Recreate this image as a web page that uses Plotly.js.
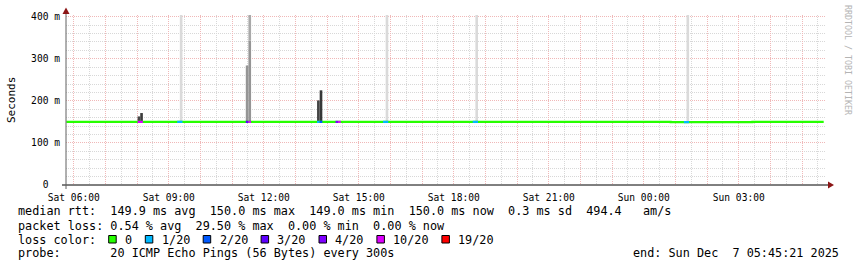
<!DOCTYPE html>
<html><head><meta charset="utf-8">
<script src="https://cdn.plot.ly/plotly-3.0.1.min.js"></script>
<style>html,body{margin:0;padding:0;background:#fff;}#chart{width:857px;height:267px;}</style>
</head><body><div id="chart"></div>
<script>
// ---- data ----
const rangeStart = '2025-12-06 05:45:21';
const rangeEnd   = '2025-12-07 05:45:21';

// median RTT (ms) as a step series: value holds from each time to the next
const medianTime  = ['2025-12-06 05:46', '2025-12-07 00:51', '2025-12-07 03:26', '2025-12-07 05:41'];
const medianValue = [150.0, 149.5, 150.0, 150.0];

// packet-loss intervals (coloured parts of the median line)
const lossStart = ['2025-12-06 08:01','2025-12-06 09:16','2025-12-06 11:26','2025-12-06 11:31','2025-12-06 13:41','2025-12-06 13:46','2025-12-06 14:16','2025-12-06 14:21','2025-12-06 15:46','2025-12-06 18:36','2025-12-07 01:16'];
const lossEnd   = ['2025-12-06 08:11','2025-12-06 09:26','2025-12-06 11:31','2025-12-06 11:36','2025-12-06 13:46','2025-12-06 13:51','2025-12-06 14:21','2025-12-06 14:26','2025-12-06 15:56','2025-12-06 18:46','2025-12-07 01:26'];
const lossLevel = ['10/20','1/20','3/20','10/20','1/20','2/20','4/20','10/20','1/20','1/20','1/20'];

// smoke (ping spread) per 5-minute step, ms
const smokeStart = ['2025-12-06 08:01','2025-12-06 08:06','2025-12-06 09:21','2025-12-06 11:26','2025-12-06 11:31','2025-12-06 11:31','2025-12-06 13:41','2025-12-06 13:46','2025-12-06 15:51','2025-12-06 18:41','2025-12-07 01:21'];
const smokeLow   = [150, 150, 150, 150, 150, 343, 150, 150, 150, 150, 150];
const smokeHigh  = [163, 171, 410, 284, 343, 410, 201, 225, 410, 410, 410];

// legend / ticks
const lossLabels  = ['0','1/20','2/20','3/20','4/20','10/20','19/20'];
const xTickTimes  = ['2025-12-06 06:00','2025-12-06 09:00','2025-12-06 12:00','2025-12-06 15:00','2025-12-06 18:00','2025-12-06 21:00','2025-12-07 00:00','2025-12-07 03:00'];
const xTickLabels = ['Sat 06:00','Sat 09:00','Sat 12:00','Sat 15:00','Sat 18:00','Sat 21:00','Sun 00:00','Sun 03:00'];
const yTickValues = [0, 100, 200, 300, 400];
const yTickLabels = ['0  ','100 m','200 m','300 m','400 m'];

const statsLine1 = 'median rtt:  149.9 ms avg  150.0 ms max  149.0 ms min  150.0 ms now  0.3 ms sd  494.4   am/s';
const statsLine2 = 'packet loss: 0.54 % avg  29.50 % max  0.00 % min  0.00 % now';
const statsLine3 = 'loss color:';
const probeLine  = 'probe:       20 ICMP Echo Pings (56 Bytes) every 300s';
const endLine    = 'end: Sun Dec  7 05:45:21 2025';
const sideText   = 'RRDTOOL / TOBI OETIKER';

// ---- styles ----
const lossPalette = ['#26ff00','#00b8ff','#0059ff','#5e00ff','#7e00ff','#dd00ff','#ff0000'];
const smokeShade  = ['#474747','#3c3c3c','#dadada','#959595','#959595','#a9a9a9','#454545','#383838','#dadada','#dadada','#dadada'];
const FONT = 'DejaVu Sans Mono, monospace';

// ---- helpers ----
function toMs(s){const [d,t]=s.split(' ');const [Y,M,D]=d.split('-').map(Number);const [h,m,sec]=t.split(':').map(Number);return Date.UTC(Y,M-1,D,h,m,sec||0);}
function toStr(ms){return new Date(ms).toISOString().replace('T',' ').slice(0,19);}
function medianAt(s){const t=toMs(s);let v=medianValue[0];for(let i=0;i<medianTime.length;i++){if(toMs(medianTime[i])<=t)v=medianValue[i];}return v;}
const nb = s => s.replace(/ /g,'\u00a0');

const W=857,H=267,L=66,R=31,T=15,B=82;
const PW=W-L-R, PH=H-T-B;
const px = x => (x-L)/PW;
const py = y => (H-B-y)/PH;

// ---- traces ----
const STEP = 300000;
const traces = [];
traces.push({
  type:'bar', xaxis:'x', yaxis:'y',
  x: smokeStart.map(s=>toStr(toMs(s)+STEP/2)),
  base: smokeLow,
  y: smokeHigh.map((h,i)=>h-smokeLow[i]),
  width: smokeStart.map(()=>STEP),
  marker:{color:smokeShade, line:{width:0}},
  hoverinfo:'skip'
});
traces.push({
  type:'scatter', mode:'lines', xaxis:'x2', yaxis:'y',
  x: medianTime, y: medianValue,
  line:{color:lossPalette[0], width:2.2, shape:'hv'},
  hoverinfo:'skip'
});
lossStart.forEach((s,i)=>{
  const m = medianAt(s);
  traces.push({
    type:'scatter', mode:'lines', xaxis:'x2', yaxis:'y',
    x:[s, lossEnd[i]], y:[m, m],
    line:{color:lossPalette[lossLabels.indexOf(lossLevel[i])], width:2.2},
    hoverinfo:'skip'
  });
});

// ---- annotations ----
const tf = {family:FONT, size:11.8, color:'#000'};
const ann = [];
function txt(text,x,y,opts){ann.push(Object.assign({text:nb(text),xref:'paper',yref:'paper',x:px(x),y:py(y),xanchor:'left',yanchor:'middle',showarrow:false,font:tf},opts||{}));}
txt(statsLine1,16,211.5);
txt(statsLine2,16,225.5);
txt(statsLine3,16,239.5);
txt(probeLine,16,253.5);
txt(endLine,841,253.5,{xanchor:'right'});
txt('Seconds',11,100,{xanchor:'center',textangle:-90,font:{family:FONT,size:11,color:'#000'}});
txt(sideText,848,60,{xanchor:'center',textangle:90,font:{family:FONT,size:8.3,color:'#b4b4b4'}});

const shapes = [];
let bx = 108.7;
lossLabels.forEach((lab,i)=>{
  shapes.push({type:'rect',xref:'paper',yref:'paper',x0:px(bx),x1:px(bx+7.5),y0:py(243),y1:py(235.5),fillcolor:lossPalette[i],line:{color:'#000',width:1}});
  txt(lab,bx+14.3,239.5);
  bx += 14.5 + lab.length*7.1 + 15;
});
// axis lines and arrows
shapes.push({type:'line',xref:'paper',yref:'paper',x0:px(62),x1:px(829),y0:py(185),y1:py(185),line:{color:'#000',width:1}});
shapes.push({type:'line',xref:'paper',yref:'paper',x0:px(66),x1:px(66),y0:py(189),y1:py(12),line:{color:'#606060',width:1}});
shapes.push({type:'path',xref:'paper',yref:'paper',path:`M${px(62.5)},${py(14)} L${px(69.5)},${py(14)} L${px(66)},${py(7.5)} Z`,fillcolor:'#8b1515',line:{width:0}});
shapes.push({type:'path',xref:'paper',yref:'paper',path:`M${px(828)},${py(181.5)} L${px(828)},${py(188.5)} L${px(834)},${py(185)} Z`,fillcolor:'#8b1515',line:{width:0}});

const pink='#f0b8b8', gray='#d8d8d8', dash='1px,1px';
const layout = {
  width:W, height:H, margin:{l:L,r:R,t:T,b:B,pad:0},
  paper_bgcolor:'#fff', plot_bgcolor:'#fff', showlegend:false, barmode:'overlay',
  xaxis:{type:'date', range:[rangeStart,rangeEnd], tickmode:'array', tickvals:xTickTimes, ticktext:xTickLabels,
         showgrid:false, zeroline:false, showline:false, ticks:'', ticklabelstandoff:5,
         tickfont:{family:FONT,size:9.6,color:'#000'}, fixedrange:true},
  xaxis2:{type:'date', overlaying:'x', anchor:'y', range:[rangeStart,rangeEnd], tick0:'2025-12-06 00:00', dtick:3600000,
          showgrid:true, gridcolor:pink, griddash:dash, gridwidth:1, showticklabels:false, ticks:'', zeroline:false, showline:false,
          minor:{dtick:1800000, tick0:'2025-12-06 00:00', showgrid:true, gridcolor:gray, griddash:dash, gridwidth:1, ticks:''}},
  yaxis:{range:[0,404], tickmode:'array', tickvals:yTickValues, ticktext:yTickLabels.map(nb),
         showgrid:true, gridcolor:pink, griddash:dash, gridwidth:1, zeroline:false, showline:false, ticks:'', ticklabelstandoff:5,
         tickfont:{family:FONT,size:9.6,color:'#000'},
         minor:{tickmode:'linear', tick0:0, dtick:20, showgrid:true, gridcolor:gray, griddash:dash, gridwidth:1, ticks:''}},
  annotations:ann, shapes:shapes
};
Plotly.newPlot('chart', traces, layout, {staticPlot:true, displayModeBar:false});
</script></body></html>
